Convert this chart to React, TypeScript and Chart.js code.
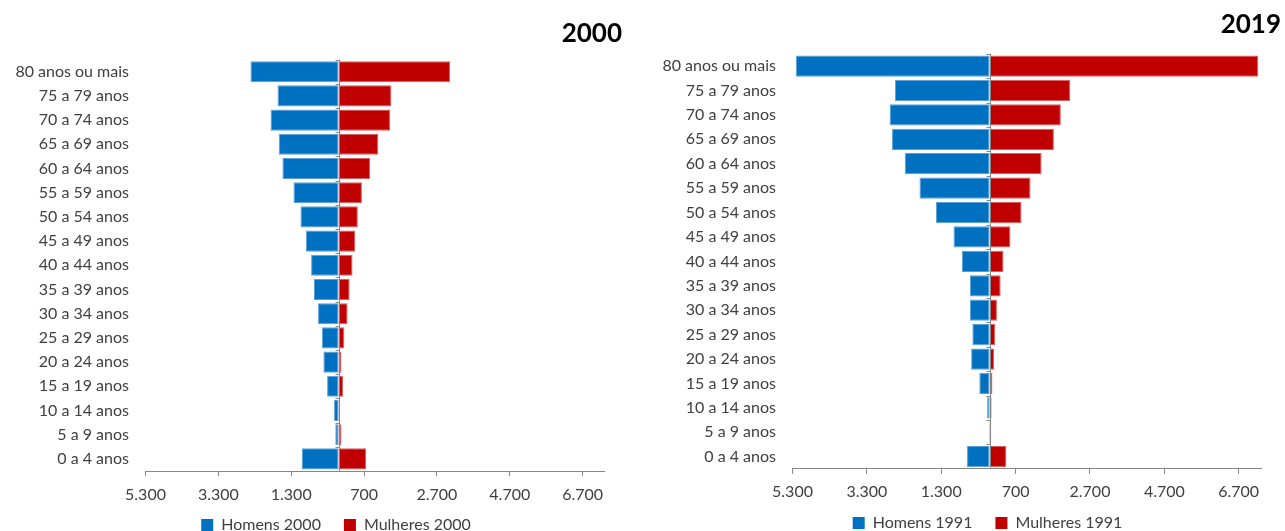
import React, { useEffect, useRef } from "react";
import { Chart, registerables } from "chart.js";

Chart.register(...registerables);

// Age groups, oldest at the top
const ageGroups = [
  "80 anos ou mais",
  "75 a 79 anos",
  "70 a 74 anos",
  "65 a 69 anos",
  "60 a 64 anos",
  "55 a 59 anos",
  "50 a 54 anos",
  "45 a 49 anos",
  "40 a 44 anos",
  "35 a 39 anos",
  "30 a 34 anos",
  "25 a 29 anos",
  "20 a 24 anos",
  "15 a 19 anos",
  "10 a 14 anos",
  "5 a 9 anos",
  "0 a 4 anos",
];

const homens2000 = [2419, 1676, 1868, 1643, 1541, 1238, 1046, 900, 754, 675, 563, 461, 416, 315, 124, 90, 1013];
const mulheres2000 = [3060, 1451, 1418, 1091, 866, 641, 529, 461, 383, 304, 248, 158, 79, 124, 45, 79, 754];

const homens1991 = [5212, 2546, 2689, 2623, 2281, 1884, 1444, 970, 749, 529, 529, 463, 496, 276, 66, 11, 606];
const mulheres1991 = [7229, 2171, 1917, 1730, 1400, 1102, 860, 562, 375, 298, 198, 154, 121, 77, 55, 44, 452];

const axisTicks = [-5300, -3300, -1300, 700, 2700, 4700, 6700];
const axisMin = -5300;
const axisMax = 7300;

const BLUE = "#0070C0";
const BLUE_EDGE = "#5C9FD6";
const RED = "#C00000";
const RED_EDGE = "#D96060";
const AXIS = "#868686";
const TEXT = "#404040";
const FONT = "Lato, 'Open Sans', sans-serif";
const FONT_SIZE = 16;
const LEGEND_PAD = 23;

function fmtThousands(v: number): string {
  return Math.abs(v)
    .toString()
    .replace(/\B(?=(\d{3})+(?!\d))/g, ".");
}

// Vertical axis line at zero with small tick marks between age groups
const zeroLine = {
  id: "zeroLine",
  afterDatasetsDraw(chart: any) {
    const { ctx, chartArea, scales } = chart;
    const x = scales.x;
    const y = scales.y;
    const px = Math.round(x.getPixelForValue(0)) + 0.5;
    const n = y.ticks.length;
    const step = (chartArea.bottom - chartArea.top) / n;
    ctx.save();
    ctx.strokeStyle = AXIS;
    ctx.lineWidth = 1;
    ctx.beginPath();
    ctx.moveTo(px, chartArea.top);
    ctx.lineTo(px, chartArea.bottom);
    for (let i = 0; i < n; i++) {
      const yy = Math.round(chartArea.top + i * step) + 0.5;
      ctx.moveTo(px - 4, yy);
      ctx.lineTo(px, yy);
    }
    ctx.stroke();
    ctx.restore();
  },
};

// Moves the legend block so that its centre sits at the given point
function legendAt(cx: number, cy: number) {
  return {
    id: "legendAt",
    afterLayout(chart: any) {
      const lg = chart.legend;
      if (!lg) return;
      const w = lg.right - lg.left;
      const h = lg.bottom - lg.top;
      lg.left = cx - w / 2;
      lg.right = cx + w / 2;
      lg.top = cy - LEGEND_PAD - FONT_SIZE / 2;
      lg.bottom = lg.top + h;
    },
  };
}

type PyramidProps = {
  men: number[];
  women: number[];
  menLabel: string;
  womenLabel: string;
  width: number;
  height: number;
  pad: { left: number; right: number; top: number; bottom: number };
  yAxisWidth: number;
  xAxisHeight: number;
  xTickPadding: number;
  legendCenter: [number, number];
};

function Pyramid(props: PyramidProps) {
  const ref = useRef<HTMLCanvasElement | null>(null);

  useEffect(() => {
    if (!ref.current) return;
    const chart = new Chart(ref.current, {
      type: "bar",
      data: {
        labels: ageGroups,
        datasets: [
          {
            label: props.menLabel,
            data: props.men.map((v) => -v),
            backgroundColor: BLUE,
            borderColor: BLUE_EDGE,
            borderWidth: 1,
            borderSkipped: false,
            categoryPercentage: 1,
            barPercentage: 0.87,
          },
          {
            label: props.womenLabel,
            data: props.women,
            backgroundColor: RED,
            borderColor: RED_EDGE,
            borderWidth: 1,
            borderSkipped: false,
            categoryPercentage: 1,
            barPercentage: 0.87,
          },
        ],
      },
      options: {
        indexAxis: "y",
        responsive: false,
        animation: false,
        layout: { padding: props.pad },
        scales: {
          x: {
            type: "linear",
            stacked: true,
            min: axisMin,
            max: axisMax,
            afterBuildTicks: (scale: any) => {
              scale.ticks = axisTicks.map((v) => ({ value: v }));
            },
            afterFit: (scale: any) => {
              scale.height = props.xAxisHeight;
            },
            ticks: {
              color: TEXT,
              font: { family: FONT, size: FONT_SIZE },
              padding: props.xTickPadding,
              maxRotation: 0,
              autoSkip: false,
              callback: (v: any) => fmtThousands(Number(v)),
            },
            grid: {
              drawOnChartArea: false,
              drawTicks: true,
              tickLength: 5,
              color: AXIS,
            },
            border: { display: true, color: AXIS, width: 1 },
          },
          y: {
            type: "category",
            stacked: true,
            afterFit: (scale: any) => {
              scale.width = props.yAxisWidth;
            },
            ticks: {
              color: TEXT,
              font: { family: FONT, size: FONT_SIZE },
              padding: 16.5,
              autoSkip: false,
            },
            grid: { display: false, drawTicks: false, tickLength: 0 },
            border: { display: false },
          },
        },
        plugins: {
          legend: {
            position: "bottom",
            labels: {
              color: TEXT,
              font: { family: FONT, size: FONT_SIZE },
              boxWidth: 12,
              boxHeight: 12,
              padding: LEGEND_PAD,
              generateLabels: (c: any) =>
                Chart.defaults.plugins.legend.labels
                  .generateLabels(c)
                  .map((l: any) => ({ ...l, lineWidth: 0 })),
            },
          },
          title: { display: false },
          tooltip: { enabled: false },
        },
      },
      plugins: [zeroLine, legendAt(props.legendCenter[0], props.legendCenter[1])],
    } as any);
    return () => chart.destroy();
  }, []);

  return (
    <canvas
      ref={ref}
      width={props.width}
      height={props.height}
      style={{ width: props.width, height: props.height, display: "block" }}
    />
  );
}

const titleStyle: React.CSSProperties = {
  position: "absolute",
  fontFamily: FONT,
  fontWeight: 700,
  fontSize: 26,
  lineHeight: "26px",
  color: "#000",
  textAlign: "right",
};

export default function App() {
  return (
    <div
      style={{
        position: "fixed",
        left: 0,
        top: 0,
        width: 1285,
        height: 531,
        overflow: "hidden",
        background: "#fff",
      }}
    >
      <div style={{ position: "absolute", left: 0, top: 0 }}>
        <Pyramid
          men={homens2000}
          women={mulheres2000}
          menLabel="Homens 2000"
          womenLabel="Mulheres 2000"
          width={640}
          height={560}
          pad={{ left: 0, right: 35.5, top: 59.6, bottom: 4 }}
          yAxisWidth={145.5}
          xAxisHeight={36}
          xTickPadding={9}
          legendCenter={[336, 525]}
        />
      </div>
      <div style={{ ...titleStyle, left: 0, width: 622, top: 19 }}>2000</div>

      <div style={{ position: "absolute", left: 640, top: 0 }}>
        <Pyramid
          men={homens1991}
          women={mulheres1991}
          menLabel="Homens 1991"
          womenLabel="Mulheres 1991"
          width={645}
          height={560}
          pad={{ left: 0, right: 24, top: 53.8, bottom: 6.1 }}
          yAxisWidth={152.5}
          xAxisHeight={36}
          xTickPadding={8}
          legendCenter={[347.5, 523]}
        />
      </div>
      <div style={{ ...titleStyle, left: 640, width: 641, top: 10 }}>2019</div>
    </div>
  );
}
